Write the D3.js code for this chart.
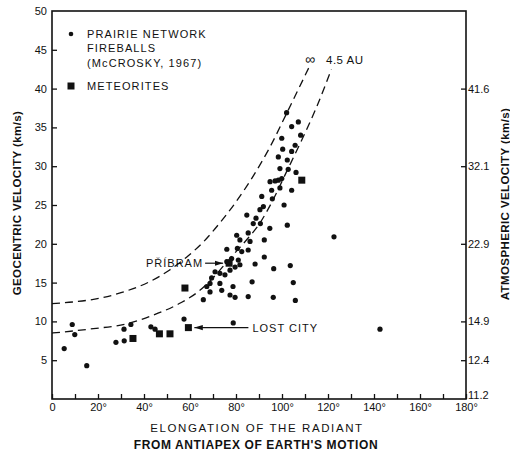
<!DOCTYPE html>
<html>
<head>
<meta charset="utf-8">
<script src="https://cdn.jsdelivr.net/npm/d3@7.9.0/dist/d3.min.js"></script>
<style>
  body { margin: 0; background: #fff; }
  text { font-family: "Liberation Sans", Arial, sans-serif; fill: #111; }
</style>
</head>
<body>
<svg id="chart" width="510" height="454"></svg>
<script>
// Elongation from antiapex (deg) and geocentric velocity (km/s)
const fireballs = [
  [5.3, 6.5], [8.8, 9.6], [9.9, 8.3], [15.1, 4.3], [27.8, 7.3], [31.4, 7.5],
  [31.3, 9.0], [34.3, 9.6], [43.0, 9.3], [44.8, 9.0], [57.4, 10.3], [78.8, 9.8],
  [142.6, 9.0],
  [90.6, 22.6], [94.7, 22.0], [102.3, 22.4], [122.6, 20.9], [92.3, 20.5],
  [92.3, 18.3], [88.3, 17.4], [96.4, 16.8], [103.6, 17.2], [87.0, 15.1],
  [104.9, 15.0], [85.3, 13.2], [96.2, 13.1], [105.8, 12.7], [65.8, 12.8],
  [77.4, 13.4], [79.6, 13.1], [78.7, 14.5], [76.0, 19.3], [80.3, 21.1], [85.3, 21.4],
  [81.7, 20.5], [80.6, 19.4], [82.5, 19.0], [85.3, 19.2], [76.0, 17.7], [78.1, 18.1],
  [81.0, 17.9], [81.7, 17.3], [79.6, 17.0], [77.4, 16.6], [75.2, 16.0], [73.0, 16.2],
  [70.9, 16.4], [69.4, 15.6], [68.7, 14.9], [73.0, 14.9], [73.8, 14.0], [67.3, 14.5],
  [68.7, 13.8],
  [86.1, 20.3], [88.7, 23.3], [84.7, 23.7], [90.4, 24.4], [91.9, 24.8], [100.9, 25.0],
  [91.2, 26.1], [95.8, 25.8], [95.5, 26.9], [99.1, 27.2], [104.2, 26.9], [94.8, 28.0],
  [97.0, 28.1], [98.4, 28.2], [99.9, 28.4], [99.1, 29.7], [102.7, 29.6], [106.1, 29.2],
  [98.4, 31.2], [102.3, 30.8], [100.3, 32.2], [104.2, 31.9], [105.7, 32.7], [99.9, 33.6],
  [108.1, 34.0], [104.2, 35.1], [107.1, 35.7], [102.0, 36.9], [87.5, 22.6]
];

const meteorites = [
  [35.2, 7.8], [46.7, 8.4], [51.3, 8.4], [57.8, 14.3], [59.3, 9.2], [77.0, 17.5], [108.6, 28.2]
];
const pribram = [77.0, 17.5];
const lostCity = [59.3, 9.2];

// dashed limiting curves (aphelion at infinity and at 4.5 AU)
const curveInf = [
  [0, 12.3], [9, 12.5], [21, 13.0], [30, 13.7], [43, 15.2], [51, 16.6], [59, 18.4],
  [66, 20.3], [73, 22.7], [80, 25.4], [87, 28.5], [95, 32.6], [102, 36.8], [112, 42.9]
];
const curveAU = [
  [0, 8.5], [16, 9.0], [34, 9.8], [44, 10.8], [56, 12.4], [63, 13.7], [70, 15.6],
  [77, 18.0], [84, 20.3], [90, 22.5], [96, 25.6], [102, 29.3], [108, 33.0], [115, 37.6], [121.5, 42.5]
];

const xTicks = d3.range(0, 181, 10);
const yTicks = [5, 10, 15, 20, 25, 30, 35, 40, 45, 50];
const atmAt = [40, 30, 20, 10, 5, 0];
const atmLabels = ["41.6", "32.1", "22.9", "14.9", "12.4", "11.2"];

const svg = d3.select("#chart");
const x = d3.scaleLinear().domain([0, 180]).range([52, 466]);
const y = d3.scaleLinear().domain([0, 50]).range([399, 11]);

// frame
svg.append("rect")
  .attr("x", 52).attr("y", 11).attr("width", 414).attr("height", 388)
  .attr("fill", "none").attr("stroke", "#111").attr("stroke-width", 1.6);

// axes
const gx = svg.append("g").attr("transform", "translate(0,399)")
  .call(d3.axisBottom(x).tickValues(xTicks).tickSizeInner(-5).tickSizeOuter(0).tickPadding(4)
    .tickFormat(d => d % 20 ? "" : (d === 0 ? "0" : d + "°")));
const gy = svg.append("g").attr("transform", "translate(52,0)")
  .call(d3.axisLeft(y).tickValues(yTicks).tickSizeInner(-5).tickSizeOuter(0).tickPadding(5));
const gr = svg.append("g").attr("transform", "translate(466,0)")
  .call(d3.axisRight(y).tickValues(atmAt).tickSizeInner(-5).tickSizeOuter(0).tickPadding(2)
    .tickFormat((d, i) => atmLabels[i]));
gr.selectAll(".tick").filter(d => d === 0).select("line").remove();
gr.selectAll(".tick").filter(d => d === 0).select("text").attr("dy", "-0.05em");
gy.selectAll(".tick").filter(d => d === 50).select("line").remove();

[gx, gy, gr].forEach(g => {
  g.select(".domain").remove();
  g.selectAll("line").attr("stroke", "#111").attr("stroke-width", 1.3);
  g.selectAll("text").attr("font-size", 11).attr("fill", "#111")
    .style("font-family", "Liberation Sans, Arial, sans-serif");
});

// dashed curves
const line = d3.line().x(d => x(d[0])).y(d => y(d[1])).curve(d3.curveMonotoneX);
[curveInf, curveAU].forEach(c => {
  svg.append("path").attr("d", line(c))
    .attr("fill", "none").attr("stroke", "#111").attr("stroke-width", 1.3)
    .attr("stroke-dasharray", "8,5");
});
svg.append("text").attr("x", x(112.2)).attr("y", 64).attr("text-anchor", "middle")
  .attr("font-size", 14).text("∞");
svg.append("text").attr("x", 326).attr("y", 64).attr("font-size", 11.5)
  .attr("letter-spacing", 0.5).text("4.5 AU");

// points
svg.append("g").selectAll("circle").data(fireballs).join("circle")
  .attr("cx", d => x(d[0])).attr("cy", d => y(d[1])).attr("r", 2.6).attr("fill", "#111");
svg.append("g").selectAll("rect").data(meteorites).join("rect")
  .attr("x", d => x(d[0]) - 3.5).attr("y", d => y(d[1]) - 3.5)
  .attr("width", 7).attr("height", 7).attr("fill", "#111");

// annotations
svg.append("defs").append("marker").attr("id", "ah")
  .attr("viewBox", "0 0 10 10").attr("refX", 10).attr("refY", 5)
  .attr("markerWidth", 7).attr("markerHeight", 7).attr("orient", "auto-start-reverse")
  .append("path").attr("d", "M0,2 L10,5 L0,8 Z").attr("fill", "#111");

svg.append("text").attr("x", x(pribram[0]) - 26).attr("y", y(pribram[1]) + 4)
  .attr("text-anchor", "end").attr("font-size", 11).attr("letter-spacing", 1).text("PŘÍBRAM");
svg.append("line")
  .attr("x1", x(pribram[0]) - 24).attr("y1", y(pribram[1]))
  .attr("x2", x(pribram[0]) - 6).attr("y2", y(pribram[1]))
  .attr("stroke", "#111").attr("stroke-width", 1.2).attr("marker-end", "url(#ah)");

svg.append("line")
  .attr("x1", x(lostCity[0]) + 60).attr("y1", y(lostCity[1]))
  .attr("x2", x(lostCity[0]) + 6).attr("y2", y(lostCity[1]))
  .attr("stroke", "#111").attr("stroke-width", 1.2).attr("marker-end", "url(#ah)");
svg.append("text").attr("x", x(lostCity[0]) + 64).attr("y", y(lostCity[1]) + 4)
  .attr("font-size", 11).attr("letter-spacing", 1).text("LOST CITY");

// legend
svg.append("circle").attr("cx", 71).attr("cy", 34).attr("r", 2.3).attr("fill", "#111");
const lg = svg.append("text").attr("font-size", 11).attr("letter-spacing", 1.1);
["PRAIRIE NETWORK", "FIREBALLS", "(McCROSKY, 1967)"].forEach((t, i) => {
  lg.append("tspan").attr("x", 87).attr("y", 38 + i * 14.3).text(t);
});
svg.append("rect").attr("x", 67.5).attr("y", 82.5).attr("width", 7).attr("height", 7).attr("fill", "#111");
svg.append("text").attr("x", 87).attr("y", 90).attr("font-size", 11).attr("letter-spacing", 1.1)
  .text("METEORITES");

// axis titles
svg.append("text").attr("transform", "translate(21,203) rotate(-90)")
  .attr("text-anchor", "middle").attr("font-size", 11.5).attr("font-weight", "bold")
  .attr("letter-spacing", 0.4).text("GEOCENTRIC VELOCITY (km/s)");
svg.append("text").attr("transform", "translate(509,204) rotate(-90)")
  .attr("text-anchor", "middle").attr("font-size", 11.5).attr("font-weight", "bold")
  .attr("letter-spacing", 0.4).text("ATMOSPHERIC VELOCITY (km/s)");
svg.append("text").attr("x", 257).attr("y", 432).attr("text-anchor", "middle")
  .attr("font-size", 11.5).attr("letter-spacing", 1.6).text("ELONGATION OF THE RADIANT");
svg.append("text").attr("x", 256).attr("y", 449).attr("text-anchor", "middle")
  .attr("font-size", 12).attr("font-weight", "bold").attr("letter-spacing", 0.6)
  .text("FROM ANTIAPEX OF EARTH'S MOTION");
</script>
</body>
</html>
